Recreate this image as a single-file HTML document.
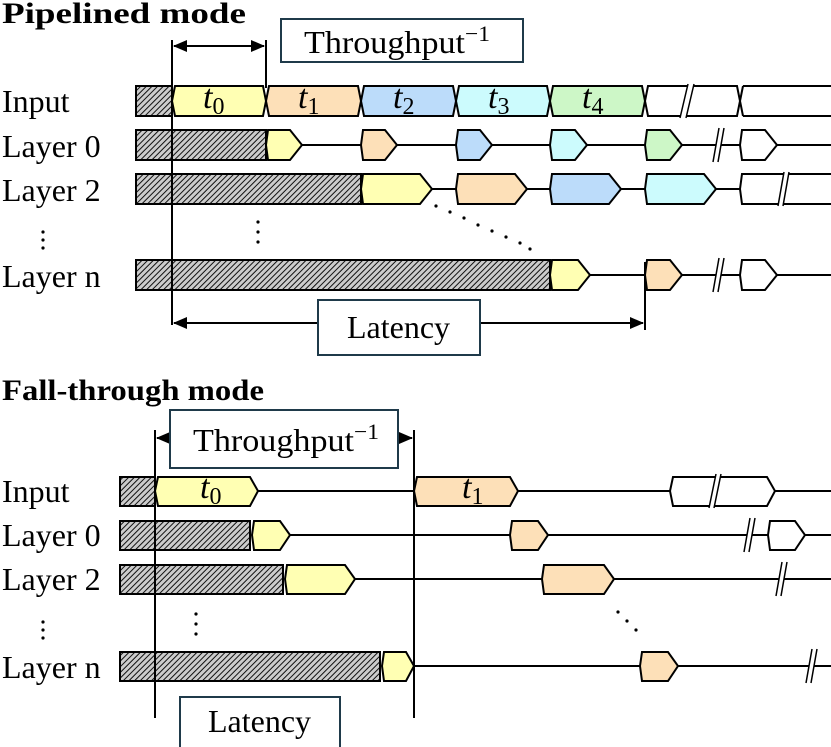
<!DOCTYPE html>
<html><head><style>
body{margin:0;background:#fff}
svg{display:block}
text{font-family:"Liberation Serif",serif;fill:#000}
.m{font-style:italic}
.s{font-style:normal}
</style></head><body>
<svg width="831" height="747" viewBox="0 0 831 747" xmlns="http://www.w3.org/2000/svg">
<defs>
<pattern id="h" width="4" height="4" patternUnits="userSpaceOnUse" patternTransform="rotate(45)">
<rect width="4" height="4" fill="#ccc"/><line x1="0" y1="0" x2="0" y2="4" stroke="#111" stroke-width="2"/>
</pattern>
<marker id="a" markerWidth="14" markerHeight="12" refX="13" refY="6" orient="auto-start-reverse" markerUnits="userSpaceOnUse"><path d="M0,0 L14,6 L0,12Z" fill="#000"/></marker>
</defs>
<g stroke="#000" stroke-width="2" fill="none">
<rect x="136" y="86" width="36" height="30" fill="url(#h)"/>
<path d="M175,86 L263,86 L266,101 L263,116 L175,116 L172,101Z" fill="#ffffb3"/>
<path d="M269,86 L358,86 L361,101 L358,116 L269,116 L266,101Z" fill="#fde0b8"/>
<path d="M364,86 L453,86 L456,101 L453,116 L364,116 L361,101Z" fill="#bcdcfa"/>
<path d="M459,86 L547,86 L550,101 L547,116 L459,116 L456,101Z" fill="#ccfbfd"/>
<path d="M553,86 L642,86 L645,101 L642,116 L553,116 L550,101Z" fill="#cdf7c7"/>
<path d="M648,86 L737,86 L740,101 L737,116 L648,116 L645,101Z" fill="#fff"/>
<path d="M743,86 L831,86 M743,116 L831,116 M743,86 L740,101 L743,116"/>
<rect x="136" y="130" width="130" height="30" fill="url(#h)"/>
<path d="M268,130 L290,130 L302,145 L290,160 L268,160 L266,145Z" fill="#ffffb3"/>
<path d="M302,145 L361,145"/>
<path d="M363,130 L385,130 L397,145 L385,160 L363,160 L361,145Z" fill="#fde0b8"/>
<path d="M397,145 L456,145"/>
<path d="M458,130 L480,130 L492,145 L480,160 L458,160 L456,145Z" fill="#bcdcfa"/>
<path d="M492,145 L550,145"/>
<path d="M552,130 L575,130 L587,145 L575,160 L552,160 L550,145Z" fill="#ccfbfd"/>
<path d="M587,145 L645,145"/>
<path d="M647,130 L670,130 L682,145 L670,160 L647,160 L645,145Z" fill="#cdf7c7"/>
<path d="M682,145 L740,145"/>
<path d="M742,130 L765,130 L777,145 L765,160 L742,160 L740,145Z" fill="#fff"/>
<path d="M777,145 L831,145"/>
<rect x="136" y="174" width="225" height="30" fill="url(#h)"/>
<path d="M363,174 L420,174 L432,189 L420,204 L363,204 L361,189Z" fill="#ffffb3"/>
<path d="M432,189 L456,189"/>
<path d="M458,174 L515,174 L527,189 L515,204 L458,204 L456,189Z" fill="#fde0b8"/>
<path d="M527,189 L550,189"/>
<path d="M552,174 L609,174 L621,189 L609,204 L552,204 L550,189Z" fill="#bcdcfa"/>
<path d="M621,189 L645,189"/>
<path d="M647,174 L704,174 L716,189 L704,204 L647,204 L645,189Z" fill="#ccfbfd"/>
<path d="M716,189 L740,189"/>
<path d="M831,174 L742,174 L740,189 L742,204 L831,204" fill="#fff"/>
<rect x="136" y="260" width="414" height="30" fill="url(#h)"/>
<path d="M552,260 L578,260 L590,275 L578,290 L552,290 L550,275Z" fill="#ffffb3"/>
<path d="M590,275 L645,275"/>
<path d="M647,260 L670,260 L682,275 L670,290 L647,290 L645,275Z" fill="#fde0b8"/>
<path d="M682,275 L740,275"/>
<path d="M742,260 L765,260 L777,275 L765,290 L742,290 L740,275Z" fill="#fff"/>
<path d="M777,275 L831,275"/>
<path d="M172,40 L172,325"/>
<path d="M266,40 L266,88"/>
<path d="M174,46 L264,46" marker-start="url(#a)" marker-end="url(#a)"/>
<path d="M645,262 L645,330"/>
<path d="M174,323 L643,323" marker-start="url(#a)" marker-end="url(#a)"/>
</g>
<g stroke="#000" stroke-width="1.5" fill="#fff">
<path d="M680,118 L688,84 L694,84 L686,118Z" stroke="none"/>
<path d="M680,118 L688,84 M686,118 L694,84"/>
<path d="M713,162 L719,128 L724,128 L718,162Z" stroke="none"/>
<path d="M713,162 L719,128 M718,162 L724,128"/>
<path d="M778,206 L784,172 L789,172 L783,206Z" stroke="none"/>
<path d="M778,206 L784,172 M783,206 L789,172"/>
<path d="M713,292 L719,258 L724,258 L718,292Z" stroke="none"/>
<path d="M713,292 L719,258 M718,292 L724,258"/>
</g>
<rect x="281" y="19" width="242" height="43" fill="#fff" stroke="#1f3a4a" stroke-width="2"/>
<rect x="318" y="300" width="162" height="55" fill="#fff" stroke="#1f3a4a" stroke-width="2"/>
<text x="304" y="53" font-size="32" textLength="186" lengthAdjust="spacingAndGlyphs">Throughput<tspan font-size="22" dy="-12">−1</tspan></text>
<text x="347" y="338" font-size="32">Latency</text>
<text x="2" y="23" font-size="30" font-weight="bold" textLength="244" lengthAdjust="spacingAndGlyphs">Pipelined mode</text>
<text x="2" y="112" font-size="32">Input</text>
<text x="2" y="157" font-size="32">Layer 0</text>
<text x="2" y="201" font-size="32">Layer 2</text>
<text x="2" y="287" font-size="32">Layer n</text>
<text class="m" x="203" y="108" font-size="34">t<tspan class="s" font-size="24" dy="6">0</tspan></text>
<text class="m" x="298" y="108" font-size="34">t<tspan class="s" font-size="24" dy="6">1</tspan></text>
<text class="m" x="393" y="108" font-size="34">t<tspan class="s" font-size="24" dy="6">2</tspan></text>
<text class="m" x="488" y="108" font-size="34">t<tspan class="s" font-size="24" dy="6">3</tspan></text>
<text class="m" x="582" y="108" font-size="34">t<tspan class="s" font-size="24" dy="6">4</tspan></text>
<g fill="#000">
<circle cx="43" cy="232" r="1.6"/><circle cx="43" cy="240" r="1.6"/><circle cx="43" cy="248" r="1.6"/>
<circle cx="258" cy="222" r="1.6"/><circle cx="258" cy="232" r="1.6"/><circle cx="258" cy="242" r="1.6"/>
<circle cx="436" cy="206" r="1.6"/><circle cx="450" cy="212" r="1.6"/><circle cx="464" cy="218" r="1.6"/><circle cx="478" cy="225" r="1.6"/><circle cx="492" cy="231" r="1.6"/><circle cx="506" cy="237" r="1.6"/><circle cx="520" cy="243" r="1.6"/><circle cx="530" cy="249" r="1.6"/>
</g>

<g stroke="#000" stroke-width="2" fill="none">
<rect x="120" y="477" width="35" height="29" fill="url(#h)"/>
<path d="M158,477 L250,477 L258,491 L250,506 L158,506 L155,491Z" fill="#ffffb3"/>
<path d="M258,491 L414,491"/>
<path d="M417,477 L510,477 L518,491 L510,506 L417,506 L414,491Z" fill="#fde0b8"/>
<path d="M518,491 L670,491"/>
<path d="M673,477 L767,477 L775,491 L767,506 L673,506 L670,491Z" fill="#fff"/>
<path d="M775,491 L831,491"/>
<rect x="120" y="521" width="130" height="29" fill="url(#h)"/>
<path d="M254,521 L280,521 L290,535 L280,550 L254,550 L252,535Z" fill="#ffffb3"/>
<path d="M290,535 L510,535"/>
<path d="M512,521 L538,521 L548,535 L538,550 L512,550 L510,535Z" fill="#fde0b8"/>
<path d="M548,535 L768,535"/>
<path d="M770,521 L795,521 L805,535 L795,550 L770,550 L768,535Z" fill="#fff"/>
<path d="M805,535 L831,535"/>
<rect x="120" y="565" width="163" height="29" fill="url(#h)"/>
<path d="M287,565 L345,565 L355,579 L345,594 L287,594 L285,579Z" fill="#ffffb3"/>
<path d="M355,579 L542,579"/>
<path d="M544,565 L604,565 L614,579 L604,594 L544,594 L542,579Z" fill="#fde0b8"/>
<path d="M614,579 L831,579"/>
<rect x="120" y="652" width="260" height="29" fill="url(#h)"/>
<path d="M384,652 L406,652 L414,666 L406,681 L384,681 L382,666Z" fill="#ffffb3"/>
<path d="M414,666 L640,666"/>
<path d="M642,652 L668,652 L678,666 L668,681 L642,681 L640,666Z" fill="#fde0b8"/>
<path d="M678,666 L831,666"/>
<path d="M155,430 L155,718"/>
<path d="M414,430 L414,718"/>
<path d="M157,438 L412,438" marker-start="url(#a)" marker-end="url(#a)"/>
</g>
<g stroke="#000" stroke-width="1.5" fill="#fff">
<path d="M709,508 L716,474 L721,474 L714,508Z" stroke="none"/>
<path d="M709,508 L716,474 M714,508 L721,474"/>
<path d="M744,552 L750,518 L755,518 L749,552Z" stroke="none"/>
<path d="M744,552 L750,518 M749,552 L755,518"/>
<path d="M776,596 L782,562 L787,562 L781,596Z" stroke="none"/>
<path d="M776,596 L782,562 M781,596 L787,562"/>
<path d="M806,683 L812,649 L817,649 L811,683Z" stroke="none"/>
<path d="M806,683 L812,649 M811,683 L817,649"/>
</g>
<rect x="170" y="410" width="228" height="58" fill="#fff" stroke="#1f3a4a" stroke-width="2"/>
<rect x="180" y="697" width="160" height="52" fill="#fff" stroke="#1f3a4a" stroke-width="2"/>
<text x="193" y="451" font-size="32" textLength="186" lengthAdjust="spacingAndGlyphs">Throughput<tspan font-size="22" dy="-12">−1</tspan></text>
<text x="208" y="732" font-size="32">Latency</text>
<text x="2" y="400" font-size="30" font-weight="bold" textLength="262" lengthAdjust="spacingAndGlyphs">Fall-through mode</text>
<text x="2" y="502" font-size="32">Input</text>
<text x="2" y="546" font-size="32">Layer 0</text>
<text x="2" y="590" font-size="32">Layer 2</text>
<text x="2" y="678" font-size="32">Layer n</text>
<text class="m" x="200" y="498" font-size="34">t<tspan class="s" font-size="24" dy="6">0</tspan></text>
<text class="m" x="462" y="498" font-size="34">t<tspan class="s" font-size="24" dy="6">1</tspan></text>
<g fill="#000">
<circle cx="43" cy="622" r="1.6"/><circle cx="43" cy="630" r="1.6"/><circle cx="43" cy="638" r="1.6"/>
<circle cx="196" cy="614" r="1.6"/><circle cx="196" cy="624" r="1.6"/><circle cx="196" cy="634" r="1.6"/>
<circle cx="618" cy="612" r="1.6"/><circle cx="627" cy="621" r="1.6"/><circle cx="636" cy="630" r="1.6"/>
</g>
</svg>
</body></html>
